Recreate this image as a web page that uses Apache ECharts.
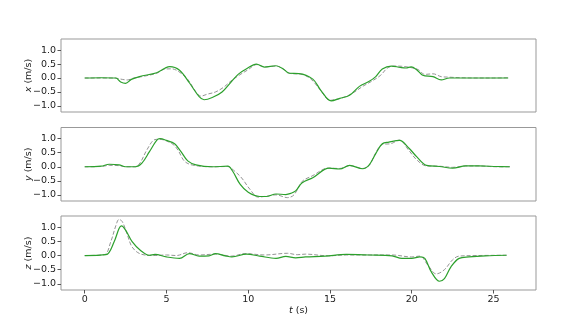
<!DOCTYPE html>
<html>
<head>
<meta charset="utf-8">
<script src="https://cdn.jsdelivr.net/npm/echarts@6/dist/echarts.min.js"></script>
<style>
  html, body { margin: 0; padding: 0; background: #fff; }
  #main { width: 574px; height: 326px; }
</style>
</head>
<body>
<div id="main"></div>
<script>
// tick labels
var xTicks = [0, 5, 10, 15, 20, 25];
var yTicks = [-1, -0.5, 0, 0.5, 1];

// x velocity
var xSolidT = [0, 1, 1.9, 2.2, 2.5, 2.85, 3.35, 4.4, 4.9, 5.2, 5.8, 6.4, 7.0, 7.3, 7.8, 8.4, 9.0, 9.4, 9.9, 10.5, 11.0, 11.7, 12.2, 12.5, 13.1, 13.95, 14.45, 15.07, 15.6, 16.2, 16.8, 17.4, 17.8, 18.2, 18.75, 19.3, 19.65, 19.96, 20.3, 20.67, 21.3, 21.8, 22.3, 23, 24, 25, 25.9];
var xSolidV = [0, 0.01, 0, -0.14, -0.19, -0.05, 0.05, 0.19, 0.35, 0.41, 0.28, -0.17, -0.67, -0.78, -0.7, -0.5, -0.11, 0.14, 0.33, 0.5, 0.39, 0.44, 0.3, 0.17, 0.16, -0.04, -0.45, -0.82, -0.73, -0.62, -0.3, -0.12, 0.05, 0.32, 0.43, 0.38, 0.36, 0.4, 0.3, 0.1, 0.05, -0.07, 0, 0, 0, 0, 0];
var xDashT = [0, 1.8, 2.3, 2.6, 3.0, 3.5, 4.4, 4.9, 5.3, 5.7, 6.3, 6.8, 7.1, 7.5, 8.0, 8.5, 9.0, 9.5, 10.0, 10.5, 11.0, 11.7, 12.2, 12.6, 13.2, 13.8, 14.4, 15.0, 15.5, 16.0, 16.5, 17.0, 17.6, 18.1, 18.5, 18.9, 19.4, 19.9, 20.4, 20.8, 21.3, 21.8, 22.3, 23, 24, 25, 25.9];
var xDashV = [0, 0, -0.05, -0.07, 0, 0.05, 0.17, 0.32, 0.33, 0.25, -0.05, -0.5, -0.65, -0.58, -0.5, -0.33, -0.08, 0.12, 0.3, 0.48, 0.4, 0.43, 0.3, 0.16, 0.14, -0.02, -0.42, -0.8, -0.75, -0.66, -0.5, -0.3, -0.1, 0.1, 0.35, 0.43, 0.42, 0.38, 0.3, 0.13, 0.15, 0.05, 0.03, 0.01, 0, 0, 0.01];

// y velocity
var ySolidT = [0, 1.0, 1.5, 2.1, 2.5, 3.1, 3.5, 3.95, 4.4, 4.6, 5.0, 5.5, 5.9, 6.3, 6.8, 7.8, 8.75, 9.05, 9.5, 10.0, 10.7, 11.1, 11.7, 12.3, 12.6, 12.9, 13.3, 13.95, 14.95, 15.6, 16.2, 17.0, 17.4, 17.8, 18.2, 18.6, 19.25, 19.85, 20.3, 20.9, 21.7, 22.5, 23.3, 24.1, 25.2, 26.0];
var ySolidV = [0, 0.02, 0.09, 0.07, 0, 0, 0.13, 0.53, 0.94, 1.0, 0.94, 0.82, 0.53, 0.21, 0.07, 0, 0.02, -0.16, -0.62, -0.91, -1.06, -1.06, -0.97, -0.99, -0.95, -0.86, -0.57, -0.39, -0.05, -0.08, 0.05, -0.07, 0.07, 0.47, 0.82, 0.88, 0.94, 0.65, 0.36, 0.05, 0.01, -0.05, 0.03, 0.03, 0.01, 0];
var yDashT = [0, 1.0, 1.5, 2.1, 2.5, 3.1, 3.4, 3.8, 4.3, 4.6, 5.0, 5.4, 5.7, 6.1, 6.6, 7.8, 8.75, 9.1, 9.6, 10.1, 10.6, 11.1, 11.7, 12.4, 12.8, 13.3, 13.9, 14.9, 15.6, 16.2, 17.0, 17.4, 17.8, 18.2, 18.7, 19.25, 19.8, 20.3, 20.9, 21.7, 22.5, 23.3, 24.1, 25.2, 26.0];
var yDashV = [0, 0.01, 0.05, 0.04, 0, 0, 0.15, 0.6, 0.97, 0.98, 0.92, 0.8, 0.6, 0.2, 0.06, 0, 0.01, -0.12, -0.4, -0.8, -1.08, -1.05, -1.0, -1.1, -1.0, -0.52, -0.33, -0.05, -0.06, 0.04, -0.06, 0.05, 0.5, 0.8, 0.82, 0.95, 0.6, 0.25, 0.03, 0.02, -0.02, 0.03, 0.03, 0, 0];

// z velocity
var zSolidT = [0, 1.3, 1.8, 2.1, 2.25, 2.5, 2.9, 3.4, 3.95, 4.3, 5.0, 5.8, 6.4, 7.0, 7.6, 8.0, 8.6, 9.0, 9.9, 10.7, 11.7, 12.3, 12.9, 13.5, 14.7, 16.0, 17.4, 18.8, 19.4, 20.0, 20.5, 20.8, 21.2, 21.7, 22.0, 22.4, 22.9, 23.5, 24.5, 25.8];
var zSolidV = [0, 0.03, 0.49, 0.96, 1.05, 0.9, 0.49, 0.19, 0.01, 0.04, -0.05, -0.1, 0.07, -0.02, -0.01, 0.07, -0.01, -0.05, 0.05, -0.02, -0.1, -0.03, -0.08, -0.05, -0.02, 0.04, 0.02, -0.01, -0.1, -0.1, -0.05, -0.1, -0.58, -0.91, -0.82, -0.4, -0.1, -0.05, -0.01, 0.01];
var zDashT = [0, 1.2, 1.6, 1.9, 2.1, 2.3, 2.6, 2.9, 3.4, 4.2, 5.0, 5.6, 6.3, 7.0, 8.0, 9.0, 9.8, 11.0, 12.4, 13.0, 13.5, 14.9, 16.0, 18.8, 20.0, 20.5, 21.0, 21.5, 22.0, 22.5, 22.9, 24.0, 25.8];
var zDashV = [0, 0.03, 0.5, 1.05, 1.28, 1.2, 0.75, 0.3, 0.06, 0, 0.02, 0, 0.1, 0.02, 0.05, -0.02, 0.07, 0.02, 0.08, 0.03, 0.05, -0.01, 0.02, 0.02, -0.05, -0.02, -0.35, -0.65, -0.5, -0.15, -0.02, 0, 0.01];

function pairs(t, v) {
  var out = [];
  for (var i = 0; i < t.length; i++) out.push([t[i], v[i]]);
  return out;
}

var font = 'DejaVu Sans';
var fs = 9.5;
var tops = [39, 127.5, 216];
var heights = [73, 73.5, 74];
var names = ['x', 'y', 'z'];
var solids = [pairs(xSolidT, xSolidV), pairs(ySolidT, ySolidV), pairs(zSolidT, zSolidV)];
var dashes = [pairs(xDashT, xDashV), pairs(yDashT, yDashV), pairs(zDashT, zDashV)];

var grid = [], xAxis = [], yAxis = [], series = [];
for (var k = 0; k < 3; k++) {
  var last = k == 2;
  grid.push({
    left: 61, width: 475, top: tops[k], height: heights[k],
    show: true, borderColor: '#999', borderWidth: 1, backgroundColor: 'transparent'
  });
  xAxis.push({
    type: 'value', gridIndex: k, min: -1.45, max: 27.6,
    axisLine: { show: false, onZero: false },
    splitLine: { show: false },
    axisTick: { show: last, customValues: xTicks, length: 3.5, lineStyle: { color: '#555' } },
    axisLabel: { show: last, customValues: xTicks, fontFamily: font, fontSize: fs, color: '#222', margin: 5 },
    name: last ? '{i|t} (s)' : '',
    nameLocation: 'middle', nameGap: 16, nameMoveOverlap: false,
    nameTextStyle: { fontFamily: font, fontSize: fs, color: '#222', rich: { i: { fontStyle: 'italic', fontFamily: font, fontSize: fs, color: '#222' } } }
  });
  yAxis.push({
    type: 'value', gridIndex: k, min: -1.22, max: 1.4,
    axisLine: { show: false, onZero: false },
    splitLine: { show: false },
    axisTick: { show: true, customValues: yTicks, length: 3.5, lineStyle: { color: '#555' } },
    axisLabel: {
      customValues: yTicks, fontFamily: font, fontSize: fs, color: '#222', margin: 5,
      formatter: function (v) { return v.toFixed(1).replace('-', '\u2212'); }
    },
    name: '{i|' + names[k] + '} (m/s)',
    nameLocation: 'middle', nameGap: 27, nameRotate: 90, nameMoveOverlap: false,
    nameTextStyle: { fontFamily: font, fontSize: fs, color: '#222', rich: { i: { fontStyle: 'italic', fontFamily: font, fontSize: fs, color: '#222' } } }
  });
  series.push({
    type: 'line', xAxisIndex: k, yAxisIndex: k, data: dashes[k],
    smooth: 0.35, showSymbol: false, z: 2,
    lineStyle: { color: '#888', width: 1, type: [4, 2], opacity: 0.9 }
  });
  series.push({
    type: 'line', xAxisIndex: k, yAxisIndex: k, data: solids[k],
    smooth: 0.35, showSymbol: false, z: 3,
    lineStyle: { color: '#2ca02c', width: 1.2 }
  });
}

var chart = echarts.init(document.getElementById('main'));
chart.setOption({
  animation: false,
  backgroundColor: '#fff',
  grid: grid,
  xAxis: xAxis,
  yAxis: yAxis,
  series: series
});
</script>
</body>
</html>
